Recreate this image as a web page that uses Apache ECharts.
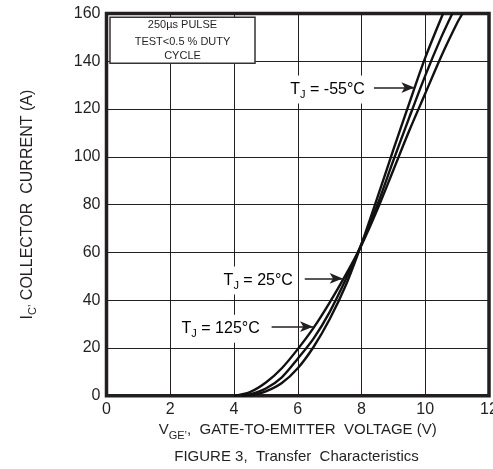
<!DOCTYPE html>
<html>
<head>
<meta charset="utf-8">
<script src="https://cdn.jsdelivr.net/npm/echarts@6/dist/echarts.min.js"></script>
<style>
html,body{margin:0;padding:0;background:#fff;}
#chart{width:493px;height:469px;}
</style>
</head>
<body>
<div id="chart"></div>
<script>
// ---- data (V_GE in volts, I_C in amps) ----
const xTicks = [0, 2, 4, 6, 8, 10, 12];
const yTicks = [0, 20, 40, 60, 80, 100, 120, 140, 160];

const curveTj125 = [[4.0,0],[4.5,1.5],[5.0,5.5],[5.5,11.5],[6.0,19.5],[6.5,28.5],[7.0,39],[7.5,50.5],[8.0,63],[8.5,78],[9.0,94.5],[9.5,111],[10.0,126.5],[10.5,142],[11.0,156],[11.17,160]];
const curveTj25  = [[4.25,0],[4.5,0.5],[5.0,3],[5.5,7.7],[6.0,15.5],[6.5,24],[7.0,35],[7.5,48.5],[8.0,63.5],[8.5,80],[9.0,98.5],[9.5,116.5],[10.0,134],[10.5,150],[10.85,160]];
const curveTjM55 = [[4.5,0],[5.0,1.8],[5.5,5.3],[6.0,11.5],[6.5,20.5],[7.0,32],[7.5,46],[8.0,63.5],[8.5,83],[9.0,103],[9.5,122.5],[10.0,141.5],[10.56,160]];

// annotation anchors in data units
const noteM55 = {label:'-55°C', textX:8.17, fromX:8.39, toX:9.66, y:129};
const note25  = {label:'25°C',  textX:5.91, fromX:6.22, toX:7.41, y:49.1};
const note125 = {label:'125°C', textX:4.87, fromX:5.18, toX:6.48, y:28.9};

const pulseNote = ['250µs PULSE', 'TEST<0.5 % DUTY', 'CYCLE'];
const xName = 'GATE-TO-EMITTER  VOLTAGE (V)';
const yName = 'COLLECTOR  CURRENT (A)';
const figTitle = 'FIGURE 3,  Transfer  Characteristics';

const INK = '#231f20';
const FONT = 'Liberation Sans, Arial, sans-serif';

const chart = echarts.init(document.getElementById('chart'), null, {renderer:'canvas'});

function arrowLine(n){
  return {
    silent:true, animation:false,
    symbol:['none','arrow'], symbolSize:[8,13],
    label:{show:false},
    lineStyle:{color:INK, width:1.6, type:'solid'},
    data:[[{coord:[n.fromX,n.y]},{coord:[n.toX,n.y]}]]
  };
}
function curve(name, data, note){
  return {
    name, type:'line', data, smooth:0.3, showSymbol:false, symbol:'none',
    lineStyle:{color:'#111', width:2.4}, clip:true, animation:false,
    markLine: arrowLine(note)
  };
}

const subRich = {
  m:{fontSize:16, fontFamily:FONT, color:INK, lineHeight:22, verticalAlign:'middle'},
  s:{fontSize:11, fontFamily:FONT, color:INK, lineHeight:11, verticalAlign:'bottom'}
};

chart.setOption({
  animation:false,
  grid:{left:106.5, right:4, top:13.5, bottom:73.3, containLabel:false, outerBoundsMode:'none',
        show:true, borderColor:INK, borderWidth:3.5, backgroundColor:'transparent'},
  xAxis:{
    type:'value', min:xTicks[0], max:xTicks[xTicks.length-1], interval:2,
    axisLine:{show:false}, axisTick:{show:false},
    splitLine:{show:true, lineStyle:{color:INK, width:1}},
    axisLabel:{color:INK, fontSize:16, fontFamily:FONT, margin:6, showMaxLabel:true, hideOverlap:false},
    name:'{m|V}{s|GE’}{m|,  ' + xName + '}',
    nameLocation:'middle', nameGap:22,
    nameTextStyle:{rich:{
      m:{fontSize:15, fontFamily:FONT, color:INK, lineHeight:22, verticalAlign:'middle'},
      s:{fontSize:11, fontFamily:FONT, color:INK, lineHeight:11, verticalAlign:'bottom'}
    }}
  },
  yAxis:{
    type:'value', min:yTicks[0], max:yTicks[yTicks.length-1], interval:20,
    axisLine:{show:false}, axisTick:{show:false},
    splitLine:{show:true, lineStyle:{color:INK, width:1}},
    axisLabel:{color:INK, fontSize:16, fontFamily:FONT, margin:6},
    name:'{m|I}{s|C’}{m| ' + yName + '}',
    nameLocation:'middle', nameRotate:90, nameGap:68,
    nameTextStyle:{rich:subRich}
  },
  series:[
    curve('TJ=125°C', curveTj125, note125),
    curve('TJ=25°C', curveTj25, note25),
    curve('TJ=-55°C', curveTjM55, noteM55)
  ]
});

function px(v){ return chart.convertToPixel({gridIndex:0}, v); }

function noteText(n){
  const p = px([n.textX, n.y]);
  return {
    type:'text', z:50, silent:true,
    style:{
      text:'{m|T}{s|J}{m| = ' + n.label + '}',
      rich:subRich,
      x:p[0], y:p[1]+2, align:'right', verticalAlign:'middle',
      backgroundColor:'#fff', padding:[3,2,3,4]
    }
  };
}

const boxL = 110, boxT = 17.3, boxW = 145, boxH = 46;
chart.setOption({
  graphic:[
    {type:'rect', z:40, silent:true, shape:{x:boxL, y:boxT, width:boxW, height:boxH},
     style:{fill:'#fff', stroke:'#333', lineWidth:1.5}},
    {type:'text', z:41, silent:true, style:{text:pulseNote[0], x:boxL+boxW/2, y:25, align:'center', verticalAlign:'middle', fill:INK, font:'11px ' + FONT}},
    {type:'text', z:41, silent:true, style:{text:pulseNote[1], x:boxL+boxW/2, y:41.5, align:'center', verticalAlign:'middle', fill:INK, font:'11px ' + FONT}},
    {type:'text', z:41, silent:true, style:{text:pulseNote[2], x:boxL+boxW/2, y:56, align:'center', verticalAlign:'middle', fill:INK, font:'11px ' + FONT}},
    noteText(noteM55), noteText(note25), noteText(note125),
    {type:'text', z:41, silent:true, style:{text:figTitle, x:296.5, y:457, align:'center', verticalAlign:'middle', fill:INK, font:'15px ' + FONT}}
  ]
});
</script>
</body>
</html>
